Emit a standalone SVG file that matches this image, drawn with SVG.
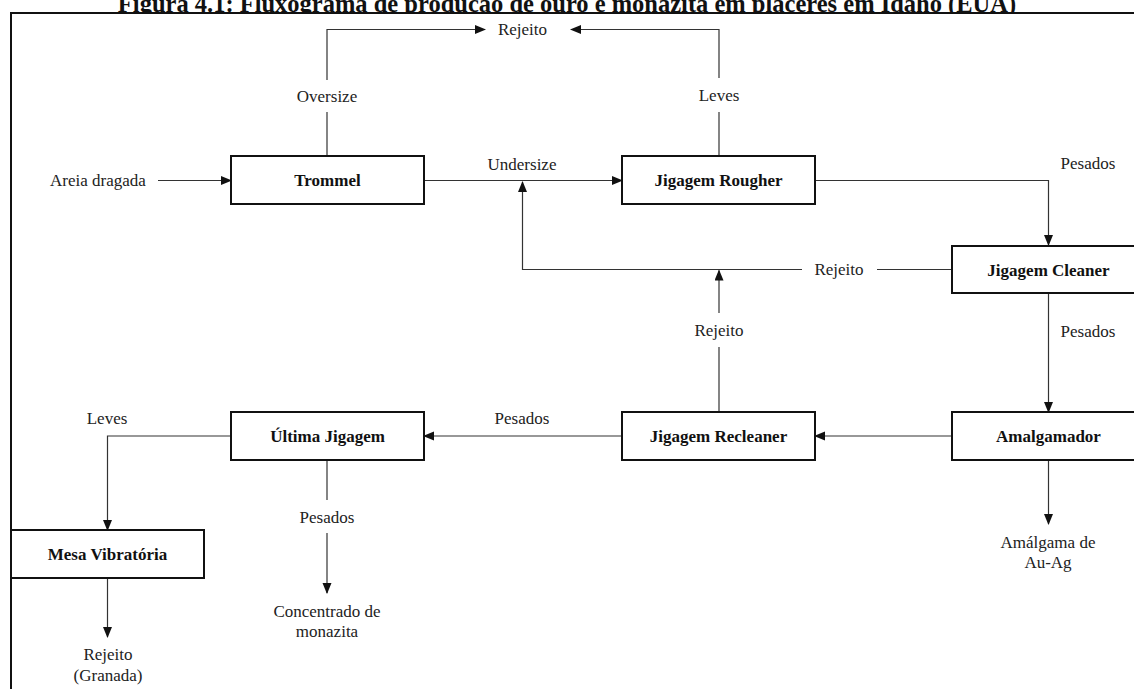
<svg xmlns="http://www.w3.org/2000/svg" width="1134" height="689" viewBox="0 0 1134 689">
<style>
.box{fill:#fff;stroke:#111;stroke-width:2}
.nl{font-family:"Liberation Serif","Times New Roman",serif;font-weight:bold;font-size:17px;fill:#111;text-anchor:middle}
.lb{font-family:"Liberation Serif","Times New Roman",serif;font-size:17px;fill:#222;text-anchor:middle}
.ln{fill:none;stroke:#333;stroke-width:1.2}
.frame{fill:none;stroke:#111;stroke-width:2}
.title{font-family:"Liberation Serif","Times New Roman",serif;font-weight:bold;font-size:24.5px;fill:#111;text-anchor:middle}
</style>
<defs>
<marker id="ah" markerUnits="userSpaceOnUse" markerWidth="11" markerHeight="10" refX="10" refY="4.5" orient="auto">
<path d="M0,0 L11,4.5 L0,9 z" fill="#111"/>
</marker>
<clipPath id="tclip"><rect x="0" y="0" width="1134" height="12"/></clipPath>
</defs>
<rect x="0" y="0" width="1134" height="689" fill="#fff"/>
<g id="title" clip-path="url(#tclip)">
<text class="title" x="567" y="12">Figura 4.1: Fluxograma de produção de ouro e monazita em placeres em Idaho (EUA)</text>
</g>
<path class="frame" d="M11,689 L11,13 L1134,13"/>

<g id="connectors">
<line class="ln" x1="158" y1="180.5" x2="231" y2="180.5" marker-end="url(#ah)"/>
<line class="ln" x1="424" y1="180.5" x2="622" y2="180.5" marker-end="url(#ah)"/>
<path class="ln" d="M327,155 L327,112"/>
<path class="ln" d="M327,80 L327,29.5 L485,29.5" marker-end="url(#ah)"/>
<path class="ln" d="M719,155 L719,112"/>
<path class="ln" d="M719,78 L719,29.5 L571,29.5" marker-end="url(#ah)"/>
<path class="ln" d="M815,180.5 L1048.5,180.5 L1048.5,245" marker-end="url(#ah)"/>
<line class="ln" x1="952" y1="269.5" x2="877" y2="269.5"/>
<path class="ln" d="M802,269.5 L522.5,269.5 L522.5,182" marker-end="url(#ah)"/>
<line class="ln" x1="719" y1="412" x2="719" y2="347"/>
<line class="ln" x1="719" y1="313" x2="719" y2="270.5" marker-end="url(#ah)"/>
<line class="ln" x1="1048.5" y1="294" x2="1048.5" y2="412" marker-end="url(#ah)"/>
<line class="ln" x1="952" y1="436" x2="815" y2="436" marker-end="url(#ah)"/>
<line class="ln" x1="622" y1="436" x2="424" y2="436" marker-end="url(#ah)"/>
<path class="ln" d="M231,436 L107.5,436 L107.5,530" marker-end="url(#ah)"/>
<line class="ln" x1="327" y1="460" x2="327" y2="500"/>
<line class="ln" x1="327" y1="533" x2="327" y2="593" marker-end="url(#ah)"/>
<line class="ln" x1="107.5" y1="578" x2="107.5" y2="637" marker-end="url(#ah)"/>
<line class="ln" x1="1048.5" y1="460" x2="1048.5" y2="524" marker-end="url(#ah)"/>
</g>

<g id="labels">
<text class="lb" x="50" y="186" style="text-anchor:start">Areia dragada</text>
<text class="lb" x="522" y="170">Undersize</text>
<text class="lb" x="327" y="102">Oversize</text>
<text class="lb" x="522.5" y="35">Rejeito</text>
<text class="lb" x="719" y="101">Leves</text>
<text class="lb" x="1088" y="169">Pesados</text>
<text class="lb" x="839" y="275">Rejeito</text>
<text class="lb" x="1088" y="337">Pesados</text>
<text class="lb" x="719" y="336">Rejeito</text>
<text class="lb" x="522" y="424">Pesados</text>
<text class="lb" x="107" y="424">Leves</text>
<text class="lb" x="327" y="523">Pesados</text>
<text class="lb" x="327" y="617">Concentrado de</text>
<text class="lb" x="327" y="637">monazita</text>
<text class="lb" x="108" y="660">Rejeito</text>
<text class="lb" x="108" y="681">(Granada)</text>
<text class="lb" x="1048" y="548">Amálgama de</text>
<text class="lb" x="1048" y="568">Au-Ag</text>
</g>

<g id="trommel"><rect class="box" x="231" y="156" width="193" height="48"/><text class="nl" x="327.5" y="186">Trommel</text></g>
<g id="rougher"><rect class="box" x="622" y="156" width="193" height="48"/><text class="nl" x="718.5" y="186">Jigagem Rougher</text></g>
<g id="cleaner"><rect class="box" x="952" y="246" width="193" height="47"/><text class="nl" x="1048.5" y="275.5">Jigagem Cleaner</text></g>
<g id="amalgamador"><rect class="box" x="952" y="412" width="193" height="48"/><text class="nl" x="1048.5" y="442">Amalgamador</text></g>
<g id="recleaner"><rect class="box" x="622" y="412" width="193" height="48"/><text class="nl" x="718.5" y="442">Jigagem Recleaner</text></g>
<g id="ultima"><rect class="box" x="231" y="412" width="193" height="48"/><text class="nl" x="327.5" y="442">Última Jigagem</text></g>
<g id="mesa"><rect class="box" x="11" y="530" width="193" height="48"/><text class="nl" x="107.5" y="560">Mesa Vibratória</text></g>
</svg>
